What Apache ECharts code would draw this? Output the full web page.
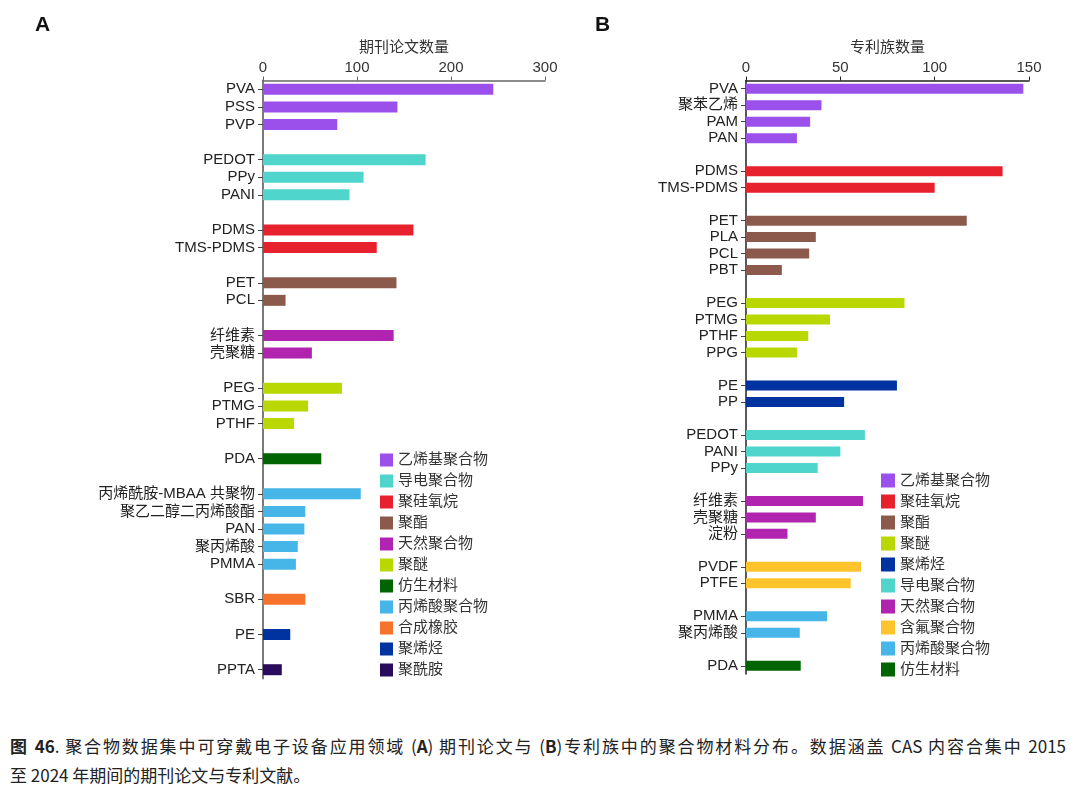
<!DOCTYPE html>
<html>
<head>
<meta charset="utf-8">
<title>聚合物材料分布</title>
<script src="https://cdn.jsdelivr.net/npm/echarts@6/dist/echarts.min.js"></script>
<style>
	body { margin: 0; background: #fff; }
	#main { position: absolute; left: 0; top: 0; width: 1080px; height: 710px; }
	.cap { position: absolute; left: 10px; width: 1056px; font-family: "Noto Sans CJK SC", sans-serif; font-size: 17px; line-height: 22px; color: #222; }
	.cap1 { top: 735px; text-align: justify; text-align-last: justify; }
	.cap2 { top: 764px; }
</style>
</head>
<body>
<div id="main"></div>
<div class="cap cap1"><b>图 46</b>. 聚合物数据集中可穿戴电子设备应用领域 (<b>A</b>) 期刊论文与 (<b>B</b>)专利族中的聚合物材料分布。数据涵盖 CAS 内容合集中 2015</div>
<div class="cap cap2">至 2024 年期间的期刊论文与专利文献。</div>
<script>
	'use strict';
	// A：期刊论文
	var groupsA = ['乙烯基聚合物', '导电聚合物', '聚硅氧烷', '聚酯', '天然聚合物', '聚醚', '仿生材料', '丙烯酸聚合物', '合成橡胶', '聚烯烃', '聚酰胺'];
	var namesA = [
		['PVA', 'PSS', 'PVP'],
		['PEDOT', 'PPy', 'PANI'],
		['PDMS', 'TMS-PDMS'],
		['PET', 'PCL'],
		['纤维素', '壳聚糖'],
		['PEG', 'PTMG', 'PTHF'],
		['PDA'],
		['丙烯酰胺-MBAA 共聚物', '聚乙二醇二丙烯酸酯', 'PAN', '聚丙烯酸', 'PMMA'],
		['SBR'],
		['PE'],
		['PPTA']
	];
	var valuesA = [[245, 143, 79], [173, 107, 92], [160, 121], [142, 24], [139, 52], [84, 48, 33], [62], [104, 45, 44, 37, 35], [45], [29], [20]];
	var ticksA = [0, 100, 200, 300];

	// B：专利族
	var groupsB = ['乙烯基聚合物', '聚硅氧烷', '聚酯', '聚醚', '聚烯烃', '导电聚合物', '天然聚合物', '含氟聚合物', '丙烯酸聚合物', '仿生材料'];
	var namesB = [
		['PVA', '聚苯乙烯', 'PAM', 'PAN'],
		['PDMS', 'TMS-PDMS'],
		['PET', 'PLA', 'PCL', 'PBT'],
		['PEG', 'PTMG', 'PTHF', 'PPG'],
		['PE', 'PP'],
		['PEDOT', 'PANI', 'PPy'],
		['纤维素', '壳聚糖', '淀粉'],
		['PVDF', 'PTFE'],
		['PMMA', '聚丙烯酸'],
		['PDA']
	];
	var valuesB = [[147, 40, 34, 27], [136, 100], [117, 37, 33.5, 19], [84, 44.5, 33, 27], [80, 52], [63, 50, 38], [62, 37, 22], [61, 55.5], [43, 28.5], [29]];
	var ticksB = [0, 50, 100, 150];

	var groupColors = {
		'乙烯基聚合物': '#9b50ec',
		'导电聚合物': '#4fd5cb',
		'聚硅氧烷': '#e8212f',
		'聚酯': '#8c5a4d',
		'天然聚合物': '#b024b0',
		'聚醚': '#b9d700',
		'仿生材料': '#006400',
		'丙烯酸聚合物': '#46b5e7',
		'合成橡胶': '#f7732b',
		'聚烯烃': '#0032a0',
		'聚酰胺': '#2b0b5b',
		'含氟聚合物': '#ffc42c'
	};

	var fontLatin = "'Liberation Sans', 'Noto Sans CJK SC', sans-serif";

	// 组之间插入空行，每组一个系列
	function buildPanel(groups, names, values, idx, barWidth) {
		var cats = [];
		var slotGroup = [];
		names.forEach(function(list, g) {
			if(g > 0) {
				cats.push('gap' + g);
				slotGroup.push(-1);
			}
			list.forEach(function(n) {
				cats.push(n);
				slotGroup.push(g);
			});
		});
		var series = groups.map(function(name, g) {
			var k = 0;
			var data = slotGroup.map(function(sg) {
				return sg === g ? values[g][k++] : '-';
			});
			return {
				type: 'bar',
				name: name,
				xAxisIndex: idx,
				yAxisIndex: idx,
				stack: 'panel' + idx,
				barWidth: barWidth,
				itemStyle: { color: groupColors[name] },
				data: data
			};
		});
		return { cats: cats, series: series };
	}

	function isGap(v) {
		return String(v).indexOf('gap') === 0;
	}

	function xAxisOf(idx, ticks, name, lineColor) {
		return {
			gridIndex: idx,
			type: 'value',
			position: 'top',
			min: ticks[0],
			max: ticks[ticks.length - 1],
			interval: ticks[1] - ticks[0],
			name: name,
			nameLocation: 'middle',
			nameGap: 23,
			nameTextStyle: { fontSize: 15, color: '#333', fontFamily: fontLatin },
			axisLine: { show: true, lineStyle: { color: lineColor, width: 1.5 } },
			axisTick: { show: true, length: 4, lineStyle: { color: lineColor } },
			axisLabel: { fontSize: 15, color: '#333', margin: 5, fontFamily: fontLatin },
			splitLine: { show: false }
		};
	}

	function yAxisOf(idx, cats, lineColor, lineWidth) {
		return {
			gridIndex: idx,
			type: 'category',
			inverse: true,
			data: cats,
			axisLine: { show: true, lineStyle: { color: lineColor, width: lineWidth } },
			axisTick: {
				show: true,
				alignWithLabel: true,
				length: 5,
				lineStyle: { color: '#444' },
				interval: function(i, v) { return !isGap(v); }
			},
			axisLabel: {
				interval: 0,
				fontSize: 15,
				color: '#222',
				margin: 8,
				fontFamily: fontLatin,
				formatter: function(v) { return isGap(v) ? '' : v; }
			}
		};
	}

	var panelA = buildPanel(groupsA, namesA, valuesA, 0, 11);
	var panelB = buildPanel(groupsB, namesB, valuesB, 1, 10);

	var myChart = echarts.init(document.getElementById('main'), null, { renderer: 'canvas' });
	var option = {
		animation: false,
		backgroundColor: '#fff',
		graphic: [
			{ type: 'text', left: 35, top: 15, style: { text: 'A', font: "bold 21px 'Liberation Sans', sans-serif", fill: '#111' } },
			{ type: 'text', left: 595, top: 15, style: { text: 'B', font: "bold 21px 'Liberation Sans', sans-serif", fill: '#111' } }
		],
		grid: [
			{ left: 263, top: 80.5, width: 282, height: 598 },
			{ left: 746, top: 80.5, width: 283, height: 593.5 }
		],
		legend: [
			{
				orient: 'vertical',
				left: 380,
				top: 452.5,
				padding: 0,
				icon: 'rect',
				itemWidth: 13,
				itemHeight: 13,
				itemGap: 6,
				textStyle: { fontSize: 15, color: '#333', fontFamily: fontLatin },
				selectedMode: false,
				data: groupsA
			},
			{
				orient: 'vertical',
				left: 881,
				top: 473,
				padding: 0,
				icon: 'rect',
				itemWidth: 14,
				itemHeight: 14,
				itemGap: 6,
				textStyle: { fontSize: 15, color: '#333', fontFamily: fontLatin },
				selectedMode: false,
				data: groupsB
			}
		],
		xAxis: [
			xAxisOf(0, ticksA, '期刊论文数量', '#666'),
			xAxisOf(1, ticksB, '专利族数量', '#222')
		],
		yAxis: [
			yAxisOf(0, panelA.cats, '#7a7a7a', 2),
			yAxisOf(1, panelB.cats, '#222', 1.5)
		],
		series: panelA.series.concat(panelB.series)
	};
	myChart.setOption(option);
</script>
</body>
</html>
